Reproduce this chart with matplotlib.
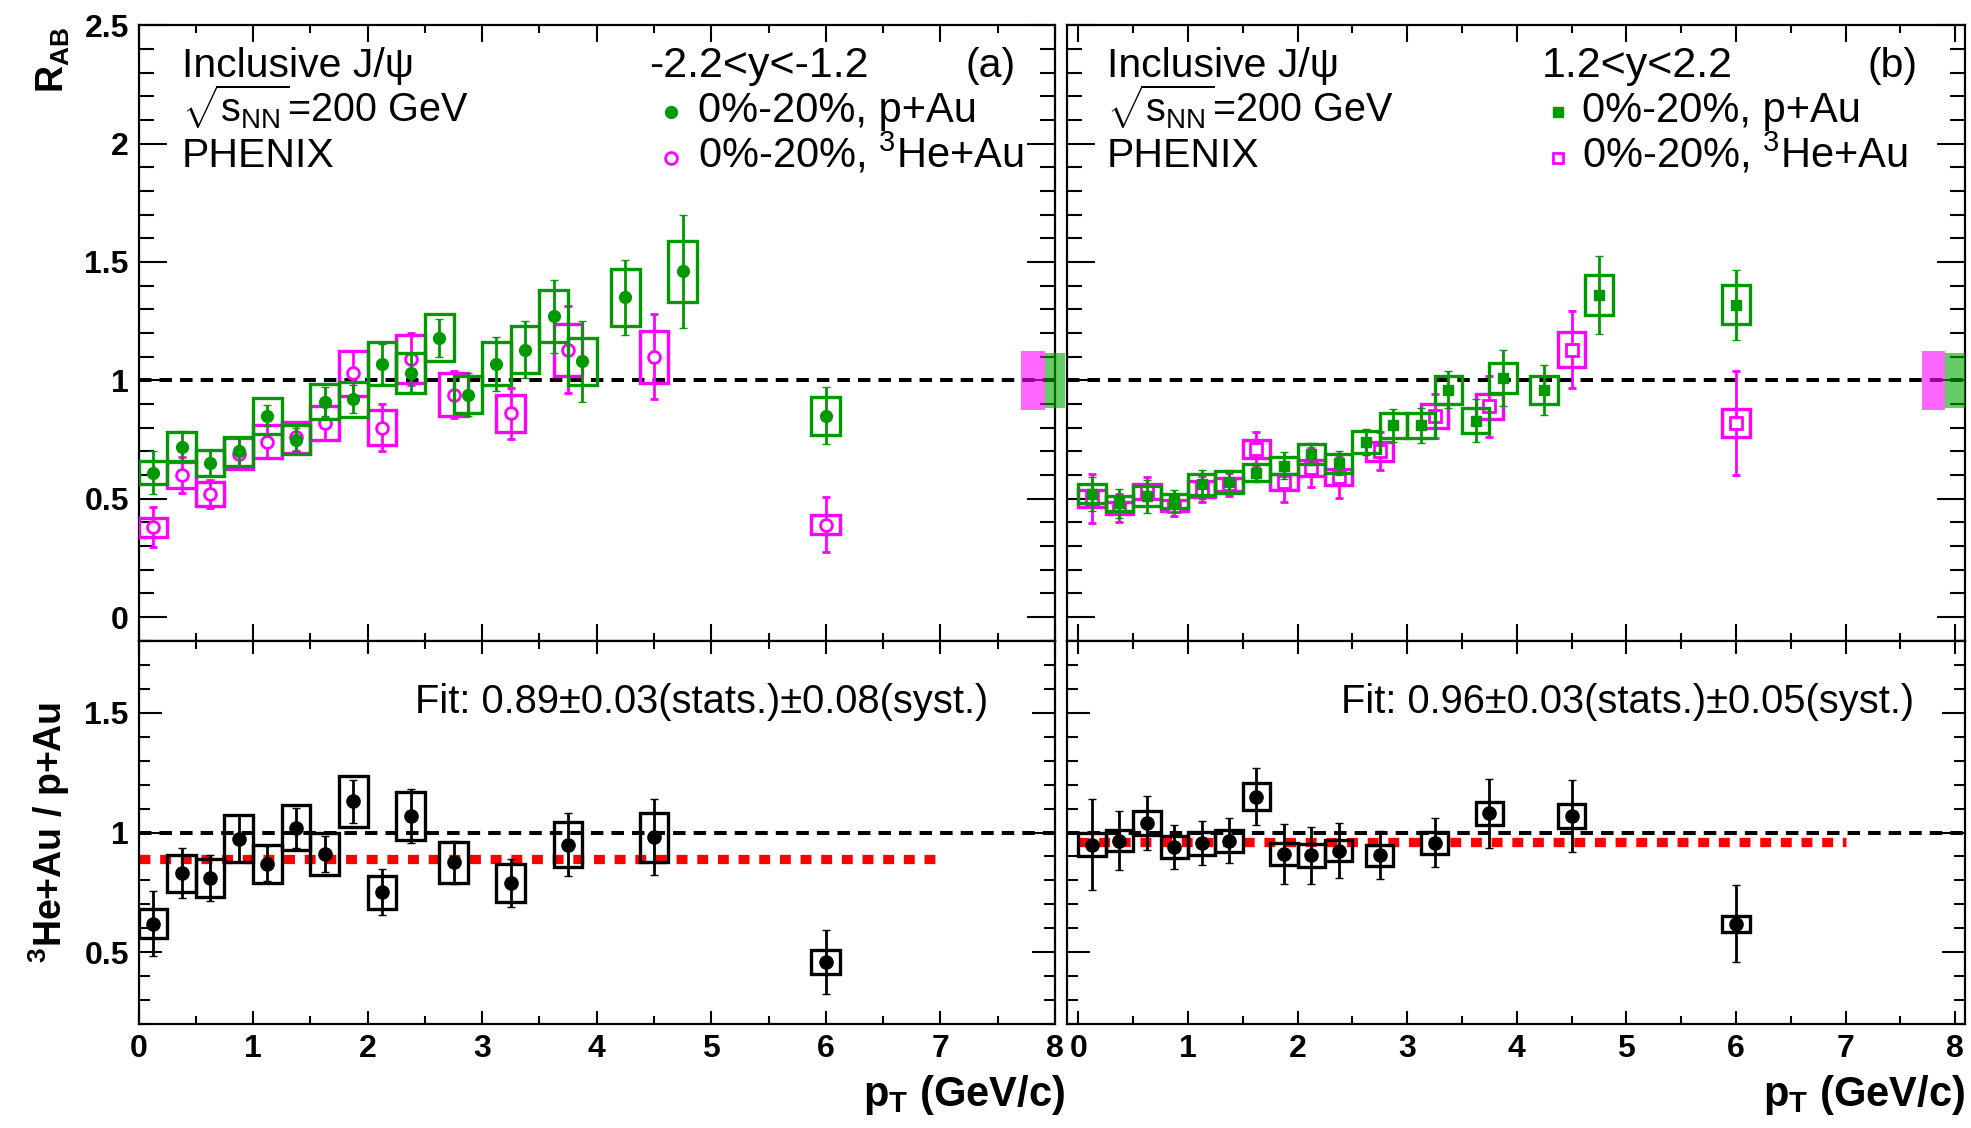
import numpy as np
import matplotlib
matplotlib.use('Agg')
import matplotlib.pyplot as plt
from matplotlib.patches import Rectangle
from matplotlib.ticker import MultipleLocator, FixedLocator, FuncFormatter

plt.rcParams['font.family'] = ['Liberation Sans', 'DejaVu Sans']
plt.rcParams['mathtext.fontset'] = 'custom'
plt.rcParams['mathtext.rm'] = 'Liberation Sans'
plt.rcParams['mathtext.it'] = 'Liberation Sans:italic'
plt.rcParams['mathtext.bf'] = 'Liberation Sans:bold'

# ---------------- data ----------------
# backward rapidity (-2.2<y<-1.2), p+Au 0-20%
pAu_bwd_pt = [0.125, 0.375, 0.625, 0.875, 1.125, 1.375, 1.625, 1.875, 2.125, 2.375,
              2.625, 2.875, 3.125, 3.375, 3.625, 3.875, 4.25, 4.75, 6.0]
pAu_bwd_val = [0.61, 0.72, 0.65, 0.70, 0.85, 0.75, 0.91, 0.92, 1.07, 1.03,
               1.18, 0.94, 1.07, 1.13, 1.27, 1.08, 1.35, 1.46, 0.85]
pAu_bwd_stat = [0.09, 0.065, 0.055, 0.06, 0.045, 0.05, 0.06, 0.06, 0.085, 0.08,
                0.08, 0.09, 0.115, 0.12, 0.155, 0.17, 0.157, 0.237, 0.12]
pAu_bwd_syst = [0.05, 0.06, 0.055, 0.06, 0.075, 0.06, 0.075, 0.075, 0.09, 0.085,
                0.10, 0.08, 0.09, 0.10, 0.11, 0.10, 0.12, 0.13, 0.08]

# backward rapidity, 3He+Au 0-20%
HeAu_bwd_pt = [0.125, 0.375, 0.625, 0.875, 1.125, 1.375, 1.625, 1.875, 2.125, 2.375,
               2.75, 3.25, 3.75, 4.5, 6.0]
HeAu_bwd_val = [0.38, 0.60, 0.52, 0.69, 0.74, 0.76, 0.82, 1.03, 0.80, 1.09,
                0.94, 0.86, 1.13, 1.10, 0.39]
HeAu_bwd_stat = [0.086, 0.075, 0.06, 0.065, 0.07, 0.06, 0.07, 0.095, 0.10, 0.108,
                 0.10, 0.107, 0.185, 0.18, 0.116]
HeAu_bwd_syst = [0.04, 0.055, 0.05, 0.065, 0.07, 0.065, 0.07, 0.095, 0.075, 0.10,
                 0.09, 0.08, 0.11, 0.11, 0.04]

# backward ratio 3He+Au / p+Au
ratio_bwd_val = [0.62, 0.83, 0.81, 0.975, 0.87, 1.02, 0.91, 1.13, 0.75, 1.07,
                 0.875, 0.79, 0.95, 0.98, 0.46]
ratio_bwd_stat = [0.137, 0.105, 0.097, 0.10, 0.073, 0.083, 0.075, 0.09, 0.096, 0.112,
                  0.09, 0.10, 0.133, 0.158, 0.132]
ratio_bwd_syst = [0.06, 0.078, 0.08, 0.097, 0.08, 0.094, 0.089, 0.105, 0.07, 0.10,
                  0.087, 0.078, 0.094, 0.103, 0.049]
fit_bwd = 0.89

# forward rapidity (1.2<y<2.2), p+Au 0-20%
pAu_fwd_pt = [0.125, 0.375, 0.625, 0.875, 1.125, 1.375, 1.625, 1.875, 2.125, 2.375,
              2.625, 2.875, 3.125, 3.375, 3.625, 3.875, 4.25, 4.75, 6.0]
pAu_fwd_val = [0.52, 0.48, 0.51, 0.49, 0.56, 0.57, 0.61, 0.64, 0.69, 0.65,
               0.74, 0.81, 0.81, 0.96, 0.83, 1.01, 0.96, 1.36, 1.32]
pAu_fwd_stat = [0.07, 0.06, 0.07, 0.047, 0.06, 0.05, 0.04, 0.056, 0.047, 0.052,
                0.056, 0.07, 0.073, 0.078, 0.09, 0.12, 0.105, 0.164, 0.148]
pAu_fwd_syst = [0.04, 0.033, 0.043, 0.03, 0.045, 0.047, 0.035, 0.037, 0.043, 0.04,
                0.047, 0.052, 0.052, 0.058, 0.052, 0.064, 0.06, 0.084, 0.081]

# forward rapidity, 3He+Au 0-20%
HeAu_fwd_pt = [0.125, 0.375, 0.625, 0.875, 1.125, 1.375, 1.625, 1.875, 2.125, 2.375,
               2.75, 3.25, 3.75, 4.5, 6.0]
HeAu_fwd_val = [0.50, 0.46, 0.53, 0.47, 0.54, 0.56, 0.71, 0.57, 0.63, 0.59,
                0.70, 0.85, 0.89, 1.13, 0.82]
HeAu_fwd_stat = [0.103, 0.06, 0.06, 0.045, 0.056, 0.05, 0.073, 0.082, 0.082, 0.086,
                 0.08, 0.092, 0.13, 0.164, 0.218]
HeAu_fwd_syst = [0.035, 0.026, 0.032, 0.024, 0.033, 0.028, 0.039, 0.034, 0.033, 0.034,
                 0.039, 0.05, 0.053, 0.075, 0.058]

# forward ratio
ratio_fwd_val = [0.95, 0.965, 1.04, 0.94, 0.955, 0.965, 1.15, 0.91, 0.905, 0.925,
                 0.905, 0.957, 1.08, 1.07, 0.62]
ratio_fwd_stat = [0.19, 0.123, 0.111, 0.092, 0.092, 0.094, 0.118, 0.124, 0.12, 0.115,
                  0.10, 0.102, 0.145, 0.15, 0.162]
ratio_fwd_syst = [0.05, 0.044, 0.05, 0.047, 0.048, 0.047, 0.057, 0.047, 0.049, 0.045,
                  0.044, 0.045, 0.047, 0.05, 0.033]
fit_fwd = 0.96

# global normalisation uncertainties
norm_HeAu = 0.125
norm_pAu = 0.117

x_ticks = [0, 1, 2, 3, 4, 5, 6, 7, 8]

GREEN = '#009a00'
MAGENTA = '#ff00ff'

fig = plt.figure(figsize=(19.71, 11.28), dpi=100)
axTL = fig.add_axes([0.0703, 0.4320, 0.4649, 0.5456])
axBL = fig.add_axes([0.0703, 0.0919, 0.4649, 0.3401])
axTR = fig.add_axes([0.5412, 0.4320, 0.4558, 0.5456])
axBR = fig.add_axes([0.5412, 0.0919, 0.4558, 0.3401])

HW = 0.125
TXT = 29.5


def draw_series(ax, x, y, stat, syst, color, marker, mfc, ms, mew, z):
    for xi, yi, si in zip(x, y, syst):
        ax.add_patch(Rectangle((xi - HW, yi - si), 2 * HW, 2 * si, fill=False,
                               ec=color, lw=2.4, zorder=z))
    ax.errorbar(x, y, yerr=stat, fmt=marker, color=color, mfc=mfc, mec=color,
                ms=ms, mew=mew, elinewidth=2.0, capsize=3, capthick=2.0, zorder=z + 1)


def style(ax, top, xlim, ylim, ylabels, xlabels):
    ax.set_xlim(*xlim)
    ax.set_ylim(*ylim)
    ax.xaxis.set_major_locator(FixedLocator(x_ticks))
    ax.xaxis.set_minor_locator(MultipleLocator(0.5))
    ax.yaxis.set_major_locator(MultipleLocator(0.5))
    ax.yaxis.set_minor_locator(MultipleLocator(0.1))
    ax.xaxis.set_major_formatter(FuncFormatter(lambda v, _: '%d' % round(v)))
    ax.yaxis.set_major_formatter(FuncFormatter(lambda v, _: '%g' % round(v, 2)))
    if top:
        ylen, ylmin, xlen, xlmin = 20.5, 10.5, 12.5, 5.5
    else:
        ylen, ylmin, xlen, xlmin = 16.5, 8.2, 9.5, 5.5
    ax.tick_params(axis='both', which='both', direction='in', top=True, right=True,
                   width=1.5, labelsize=23, pad=7)
    ax.tick_params(axis='y', which='major', length=ylen)
    ax.tick_params(axis='y', which='minor', length=ylmin)
    ax.tick_params(axis='x', which='major', length=xlen)
    ax.tick_params(axis='x', which='minor', length=xlmin)
    ax.tick_params(labelleft=ylabels, labelbottom=xlabels)
    for lab in ax.get_xticklabels() + ax.get_yticklabels():
        lab.set_fontweight('bold')
    for s in ax.spines.values():
        s.set_linewidth(1.6)


dash_black = dict(color='black', lw=2.9, dashes=(3.1, 2.0), zorder=2)

# ---------- top left ----------
ax = axTL
style(ax, True, (0, 8), (-0.1, 2.5), True, False)
ax.axhline(1.0, **dash_black)
draw_series(ax, HeAu_bwd_pt, HeAu_bwd_val, HeAu_bwd_stat, HeAu_bwd_syst,
            MAGENTA, 'o', 'white', 8.5, 2.0, 3)
draw_series(ax, pAu_bwd_pt, pAu_bwd_val, pAu_bwd_stat, pAu_bwd_syst,
            GREEN, 'o', GREEN, 8.5, 1.0, 5)

# ---------- top right ----------
ax = axTR
style(ax, True, (-0.106, 8.09), (-0.1, 2.5), False, False)
ax.axhline(1.0, **dash_black)
draw_series(ax, HeAu_fwd_pt, HeAu_fwd_val, HeAu_fwd_stat, HeAu_fwd_syst,
            MAGENTA, 's', 'white', 8.0, 2.0, 3)
draw_series(ax, pAu_fwd_pt, pAu_fwd_val, pAu_fwd_stat, pAu_fwd_syst,
            GREEN, 's', GREEN, 7.5, 1.0, 5)

# normalisation boxes
for ax in (axTL, axTR):
    ax.add_patch(Rectangle((7.70, 1 - norm_HeAu), 0.21, 2 * norm_HeAu, fc=MAGENTA,
                           ec='none', alpha=0.6, zorder=6, clip_on=False))
    ax.add_patch(Rectangle((7.91, 1 - norm_pAu), 0.18, 2 * norm_pAu, fc='#00aa00',
                           ec='none', alpha=0.6, zorder=6, clip_on=False))

# ---------- bottom panels ----------
ax = axBL
style(ax, False, (0, 8), (0.2, 1.8), True, True)
ax.axhline(1.0, **dash_black)
ax.plot([0, 7], [fit_bwd, fit_bwd], color='red', lw=6.7, dashes=(1.17, 1.05), zorder=2)
draw_series(ax, HeAu_bwd_pt, ratio_bwd_val, ratio_bwd_stat, ratio_bwd_syst,
            'black', 'o', 'black', 9.5, 1.0, 3)
ax.text(2.41, 1.5, 'Fit: 0.89\u00b10.03(stats.)\u00b10.08(syst.)', fontsize=28.7, va='baseline')

ax = axBR
style(ax, False, (-0.106, 8.09), (0.2, 1.8), False, True)
ax.axhline(1.0, **dash_black)
ax.plot([0, 7], [fit_fwd, fit_fwd], color='red', lw=6.7, dashes=(1.17, 1.05), zorder=2)
draw_series(ax, HeAu_fwd_pt, ratio_fwd_val, ratio_fwd_stat, ratio_fwd_syst,
            'black', 'o', 'black', 9.5, 1.0, 3)
ax.text(2.40, 1.5, 'Fit: 0.96\u00b10.03(stats.)\u00b10.05(syst.)', fontsize=28.7, va='baseline')

# ---------- annotations top panels ----------
for ax, x0 in ((axTL, 0.379), (axTR, 0.259)):
    ax.text(x0, 2.28, 'Inclusive J/\u03c8', fontsize=TXT, va='baseline')
    ax.text(x0, 2.09, r'$\sqrt{\mathrm{s}_{\mathrm{NN}}}$=200 GeV', fontsize=TXT - 1,
            va='baseline')
    ax.text(x0, 1.90, 'PHENIX', fontsize=TXT, va='baseline')

axTL.text(4.46, 2.28, '-2.2<y<-1.2', fontsize=TXT + 1.5, va='baseline')
axTL.text(7.22, 2.28, '(a)', fontsize=TXT, va='baseline')
axTL.plot([4.65], [2.133], 'o', color=GREEN, ms=8.5, clip_on=False)
axTL.text(4.885, 2.09, '0%-20%, p+Au', fontsize=TXT + 0.5, va='baseline')
axTL.plot([4.65], [1.938], 'o', mfc='white', mec=MAGENTA, mew=2.0, ms=8.5, clip_on=False)
axTL.text(4.885, 1.898, r'0%-20%, $^{3}$He+Au', fontsize=TXT + 0.5, va='baseline')

axTR.text(4.23, 2.28, '1.2<y<2.2', fontsize=TXT + 1.5, va='baseline')
axTR.text(7.20, 2.28, '(b)', fontsize=TXT, va='baseline')
axTR.plot([4.38], [2.133], 's', color=GREEN, ms=7.5, clip_on=False)
axTR.text(4.593, 2.09, '0%-20%, p+Au', fontsize=TXT + 0.5, va='baseline')
axTR.plot([4.38], [1.938], 's', mfc='white', mec=MAGENTA, mew=2.0, ms=7.5, clip_on=False)
axTR.text(4.593, 1.898, r'0%-20%, $^{3}$He+Au', fontsize=TXT + 0.5, va='baseline')

# ---------- axis titles ----------
fig.text(0.027, 0.976, r'R$_{\mathbf{AB}}$', rotation=90, ha='center', va='top',
         fontsize=27, fontweight='bold')
fig.text(0.025, 1 - 832 / 1128, r'$^{\mathbf{3}}$He+Au / p+Au', rotation=90,
         ha='center', va='center', fontsize=27, fontweight='bold')
axBL.text(1.011, -0.212, r'p$_{\mathbf{T}}$ (GeV/c)', transform=axBL.transAxes,
          ha='right', va='baseline', fontsize=30, fontweight='bold')
axBR.text(1.0, -0.212, r'p$_{\mathbf{T}}$ (GeV/c)', transform=axBR.transAxes,
          ha='right', va='baseline', fontsize=30, fontweight='bold')

fig.savefig('out.png', dpi=100)
